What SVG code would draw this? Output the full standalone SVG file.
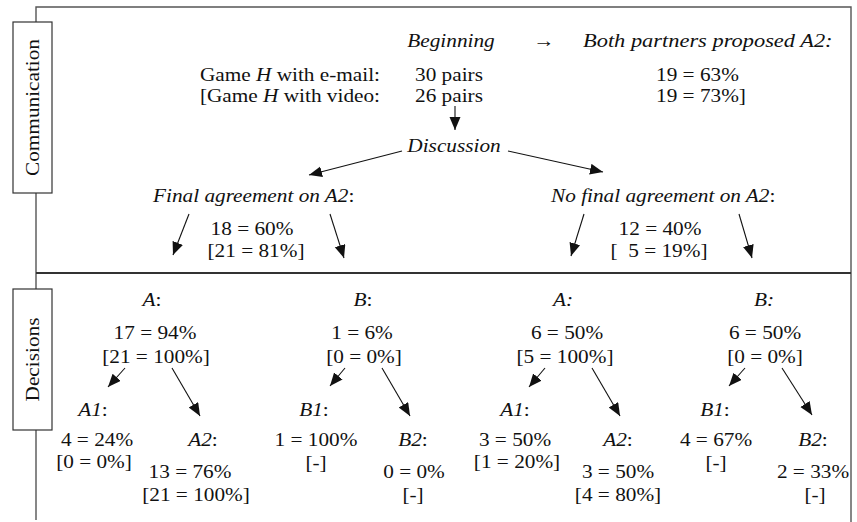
<svg xmlns="http://www.w3.org/2000/svg" width="857" height="522" viewBox="0 0 857 522">
<defs>
<marker id="ah" markerUnits="userSpaceOnUse" markerWidth="14" markerHeight="12" refX="13" refY="5.5" orient="auto">
<path d="M0,0 L13,5.5 L0,11 z" fill="#111"/>
</marker>
<style>
text{font-family:'Liberation Serif','DejaVu Serif','Times New Roman',serif;font-size:18.5px;fill:#111}
.i{font-style:italic}
.m{text-anchor:middle}
.e{text-anchor:end}
.frame{stroke:#555;stroke-width:1.4;fill:none}
.lab{fill:#fff;stroke:#333;stroke-width:1.2}
.c line{stroke:#111;stroke-width:1.1;marker-end:url(#ah)}
</style>
</defs>
<rect width="857" height="522" fill="#fff"/>
<g id="frame">
<polyline class="frame" points="36,520 36,7 851,7 851,522"/>
<line x1="36" y1="273" x2="851" y2="273" stroke="#333" stroke-width="2"/>
</g>
<g font-family="Liberation Serif, DejaVu Serif, serif">
<g id="label-communication">
<rect class="lab" x="13" y="22" width="39" height="171"/>
<text class="m" transform="translate(38.5,107.5) rotate(-90) scale(1.15,1)">Communication</text>
</g>
<g id="label-decisions">
<rect class="lab" x="13" y="289" width="39" height="141"/>
<text class="m" transform="translate(38.5,359.5) rotate(-90) scale(1.15,1)">Decisions</text>
</g>
<g id="beginning">
<text class="i m" transform="matrix(1.15 0 0 1 451 47)">Beginning</text>
<text transform="matrix(1.15 0 0 1 533 47)">→</text>
<text class="i" transform="matrix(1.15 0 0 1 583 47)" textLength="217" lengthAdjust="spacingAndGlyphs">Both partners proposed A2:</text>
<text class="e" transform="matrix(1.15 0 0 1 380 81)">Game <tspan class="i">H</tspan> with e-mail:</text>
<text class="e" transform="matrix(1.15 0 0 1 380 102)">[Game <tspan class="i">H</tspan> with video:</text>
<text transform="matrix(1.15 0 0 1 415 81)">30 pairs</text>
<text transform="matrix(1.15 0 0 1 415 102)">26 pairs</text>
<text transform="matrix(1.15 0 0 1 656 81)">19 = 63%</text>
<text transform="matrix(1.15 0 0 1 656 102)">19 = 73%]</text>
</g>
<g id="discussion">
<text class="i m" transform="matrix(1.15 0 0 1 454 152)">Discussion</text>
</g>
<g id="final-agreement">
<text transform="matrix(1.15 0 0 1 153 202)"><tspan class="i">Final agreement on A2</tspan>:</text>
<text class="m" transform="matrix(1.15 0 0 1 252 235)">18 = 60%</text>
<text class="m" transform="matrix(1.15 0 0 1 256 257)">[21 = 81%]</text>
</g>
<g id="no-final-agreement">
<text transform="matrix(1.15 0 0 1 551 202)"><tspan class="i">No final agreement on A2</tspan>:</text>
<text class="m" transform="matrix(1.15 0 0 1 660 235)">12 = 40%</text>
<text class="m" transform="matrix(1.15 0 0 1 659 257)" xml:space="preserve">[  5 = 19%]</text>
</g>
<g id="fa-A">
<text class="m" transform="matrix(1.15 0 0 1 152 306)"><tspan class="i">A</tspan>:</text>
<text class="m" transform="matrix(1.15 0 0 1 155 339)">17 = 94%</text>
<text class="m" transform="matrix(1.15 0 0 1 156 363)">[21 = 100%]</text>
</g>
<g id="fa-B">
<text class="m" transform="matrix(1.15 0 0 1 363 306)"><tspan class="i">B</tspan>:</text>
<text class="m" transform="matrix(1.15 0 0 1 362 339)">1 = 6%</text>
<text class="m" transform="matrix(1.15 0 0 1 364 363)">[0 = 0%]</text>
</g>
<g id="fa-A1">
<text class="m" transform="matrix(1.15 0 0 1 93 416)"><tspan class="i">A1</tspan>:</text>
<text class="m" transform="matrix(1.15 0 0 1 97 446)">4 = 24%</text>
<text class="m" transform="matrix(1.15 0 0 1 94 468)">[0 = 0%]</text>
</g>
<g id="fa-A2">
<text class="m" transform="matrix(1.15 0 0 1 203 446)"><tspan class="i">A2</tspan>:</text>
<text class="m" transform="matrix(1.15 0 0 1 190 478)">13 = 76%</text>
<text class="m" transform="matrix(1.15 0 0 1 196 501)">[21 = 100%]</text>
</g>
<g id="fa-B1">
<text class="m" transform="matrix(1.15 0 0 1 314 416)"><tspan class="i">B1</tspan>:</text>
<text class="m" transform="matrix(1.15 0 0 1 316 446)">1 = 100%</text>
<text class="m" transform="matrix(1.15 0 0 1 316 469)">[-]</text>
</g>
<g id="fa-B2">
<text class="m" transform="matrix(1.15 0 0 1 413 446)"><tspan class="i">B2</tspan>:</text>
<text class="m" transform="matrix(1.15 0 0 1 414 478)">0 = 0%</text>
<text class="m" transform="matrix(1.15 0 0 1 413 501)">[-]</text>
</g>
<g id="nfa-A">
<text class="i m" transform="matrix(1.15 0 0 1 563 306)">A:</text>
<text class="m" transform="matrix(1.15 0 0 1 567 339)">6 = 50%</text>
<text class="m" transform="matrix(1.15 0 0 1 565 363)">[5 = 100%]</text>
</g>
<g id="nfa-B">
<text class="i m" transform="matrix(1.15 0 0 1 764 306)">B:</text>
<text class="m" transform="matrix(1.15 0 0 1 765 339)">6 = 50%</text>
<text class="m" transform="matrix(1.15 0 0 1 765 363)">[0 = 0%]</text>
</g>
<g id="nfa-A1">
<text class="m" transform="matrix(1.15 0 0 1 515 416)"><tspan class="i">A1</tspan>:</text>
<text class="m" transform="matrix(1.15 0 0 1 515 446)">3 = 50%</text>
<text class="m" transform="matrix(1.15 0 0 1 517 468)">[1 = 20%]</text>
</g>
<g id="nfa-A2">
<text class="m" transform="matrix(1.15 0 0 1 618 446)"><tspan class="i">A2</tspan>:</text>
<text class="m" transform="matrix(1.15 0 0 1 618 478)">3 = 50%</text>
<text class="m" transform="matrix(1.15 0 0 1 618 501)">[4 = 80%]</text>
</g>
<g id="nfa-B1">
<text class="m" transform="matrix(1.15 0 0 1 715 416)"><tspan class="i">B1</tspan>:</text>
<text class="m" transform="matrix(1.15 0 0 1 716 446)">4 = 67%</text>
<text class="m" transform="matrix(1.15 0 0 1 716 469)">[-]</text>
</g>
<g id="nfa-B2">
<text class="m" transform="matrix(1.15 0 0 1 813 446)"><tspan class="i">B2</tspan>:</text>
<text class="m" transform="matrix(1.15 0 0 1 813 478)">2 = 33%</text>
<text class="m" transform="matrix(1.15 0 0 1 815 501)">[-]</text>
</g>
</g>
<g id="connectors" class="c">
<line x1="455" y1="106" x2="455" y2="130"/>
<line x1="402" y1="151" x2="309" y2="175"/>
<line x1="508" y1="151" x2="603" y2="172"/>
<line x1="189" y1="214" x2="173" y2="255"/>
<line x1="330" y1="214" x2="344" y2="258"/>
<line x1="584" y1="214" x2="571" y2="256"/>
<line x1="739" y1="214" x2="752" y2="258"/>
<line x1="125" y1="368" x2="108" y2="387"/>
<line x1="172" y1="368" x2="200" y2="416"/>
<line x1="345" y1="368" x2="330" y2="386"/>
<line x1="382" y1="368" x2="410" y2="416"/>
<line x1="545" y1="368" x2="529" y2="387"/>
<line x1="592" y1="368" x2="620" y2="416"/>
<line x1="745" y1="368" x2="729" y2="386"/>
<line x1="782" y1="368" x2="812" y2="415"/>
</g>
</svg>
